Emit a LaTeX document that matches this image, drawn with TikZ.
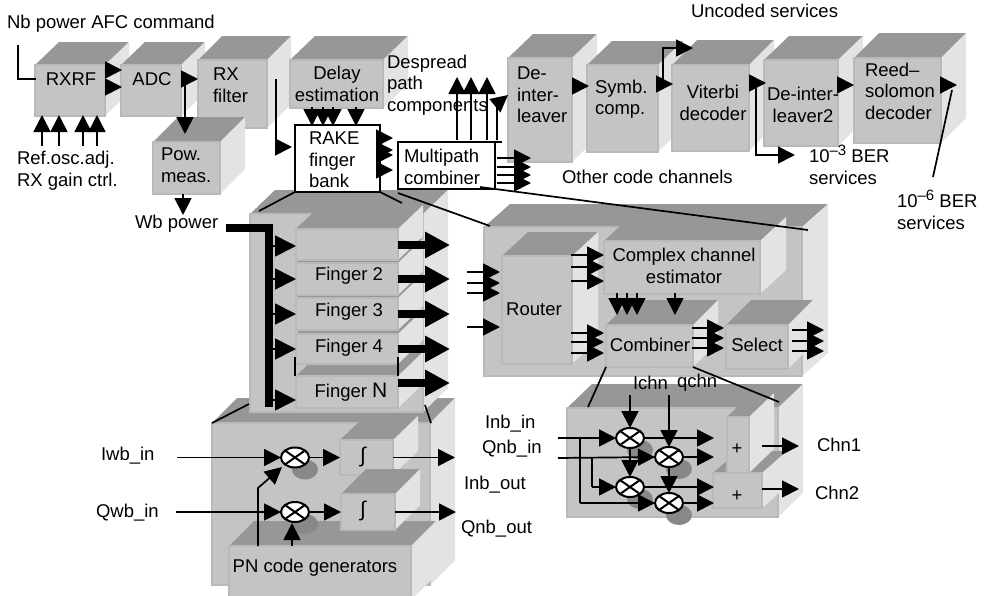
\documentclass[tikz,border=0pt]{standalone}
\usepackage{fontspec}
\setmainfont{Liberation Sans}
\usetikzlibrary{arrows.meta,shapes.geometric}
\definecolor{cfront}{HTML}{C4C4C4}
\definecolor{cedge}{HTML}{B9B9B9}
\definecolor{ctop}{HTML}{979797}
\definecolor{cside}{HTML}{E3E3E3}
\newcounter{wirec}
\newcommand{\cubeblock}[7]{%
  \fill[ctop] (#2,#3) -- (#2+#6,#3-#7) -- (#4+#6,#3-#7) -- (#4,#3) -- cycle;
  \fill[cside] (#4,#3) -- (#4+#6,#3-#7) -- (#4+#6,#5-#7) -- (#4,#5) -- cycle;
  \node[front,minimum width={(#4-#2)*1pt},minimum height={(#5-#3)*1pt}] (#1) at ({(#2+#4)/2},{(#3+#5)/2}) {};
}
\newcommand{\lnk}[3]{%
  \stepcounter{wirec}%
  \coordinate (w\arabic{wirec}s) at (#2);
  \coordinate (w\arabic{wirec}e) at (#3);
  \draw[#1] (w\arabic{wirec}s) -- (w\arabic{wirec}e);
}
\newcommand{\lnkk}[4]{%
  \stepcounter{wirec}%
  \coordinate (w\arabic{wirec}s) at (#2);
  \coordinate (w\arabic{wirec}m) at (#3);
  \coordinate (w\arabic{wirec}e) at (#4);
  \draw[#1] (w\arabic{wirec}s) -- (w\arabic{wirec}m) -- (w\arabic{wirec}e);
}
\newcommand{\mult}[3]{%
  \fill[ctop!90!black] (#2+10,#3+12) ellipse [x radius=13pt,y radius=10pt];
  \node[multnode] (#1) at (#2,#3) {};
  \draw[line width=2pt] (#1.35) -- (#1.215) (#1.145) -- (#1.325);
}
\tikzset{
  front/.style={fill=cfront,draw=cedge,line width=1.5pt,inner sep=0pt,outer sep=0pt},
  whitebox/.style={fill=white,draw=black,line width=1.6pt,inner sep=0pt,outer sep=0pt},
  multnode/.style={ellipse,fill=white,draw=black,line width=2pt,minimum width=28pt,minimum height=20pt,inner sep=0pt,outer sep=0pt},
  wire/.style={line width=1.7pt},
  arr/.style={wire,-{Triangle[length=17pt,width=17pt]}},
  lbl/.style={inner sep=0pt,outer sep=0pt,align=left,font=\fontsize{18.5}{21.5}\selectfont},
  lblc/.style={lbl,align=center},
  fatin/.style={wire,-{Triangle[length=21pt,width=21pt]}},
  fatout/.style={line width=8pt,-{Triangle[length=25pt,width=25pt,sep=0pt]}},
}
\begin{document}
\begin{tikzpicture}[x=1pt,y=-1pt]
\useasboundingbox (0,0) rectangle (988,595);
% top row
\cubeblock{rxrf}{35}{65}{105}{116}{24}{23}
\cubeblock{adc}{121}{65}{181}{116}{24}{23}
\cubeblock{rxf}{198}{60}{267}{128}{24}{24}
\cubeblock{delay}{290}{60}{383}{108}{25}{24}
\cubeblock{powm}{153}{142}{220}{194}{25}{25}
\cubeblock{deint}{508}{58}{572}{162}{25}{24}
\cubeblock{symb}{587}{65}{658}{152}{25}{24}
\cubeblock{vit}{672}{65}{749}{151}{25}{25}
\cubeblock{deint2}{764}{60}{838}{146}{25}{24}
\cubeblock{reed}{854}{58}{941}{143}{25}{25}
% despreader group
\cubeblock{despgrp}{212}{423}{430}{585}{25}{25}
\cubeblock{int1}{340}{440}{393}{475}{25}{24}
\mult{m1}{295}{457.5}
\cubeblock{pn}{229}{546}{411}{600}{25}{25}
\cubeblock{int2}{341}{494}{395}{530}{25}{25}
\mult{m2}{295}{512}
% finger group
\cubeblock{fgrp}{250}{214}{423}{412}{25}{24}
\cubeblock{fN}{296}{376}{398}{408}{25}{24}
\cubeblock{f4}{296}{334}{398}{364}{25}{24}
\cubeblock{f3}{296}{298}{398}{330}{25}{24}
\cubeblock{f2}{296}{263}{398}{295}{25}{24}
\fill[ctop] (296,229) -- (321,205) -- (423,205) -- (398,229) -- cycle;
\cubeblock{f1}{296}{229}{398}{260}{25}{24}
\draw[wire] (295,357) -- (295,376) (398,357) -- (398,376);
% router group
\cubeblock{rgrp}{484}{227}{802}{376}{26}{23}
\cubeblock{router}{502}{256}{572}{364}{26}{24}
\cubeblock{est}{604}{241}{760}{294}{26}{24}
\cubeblock{comb}{606}{325}{693}{367}{25}{25}
\cubeblock{sel}{726}{325}{788}{369}{25}{25}
% despreading output group
\cubeblock{ogrp}{567}{408}{778}{517}{25}{24}
\cubeblock{plusb}{713}{473}{762}{508}{25}{22}
\cubeblock{plusa}{727}{417}{749}{473}{25}{24}
\mult{m3}{630}{438}
\mult{m4}{669}{457}
\mult{m5}{630}{487}
\mult{m6}{669}{503}
% white boxes
\node[whitebox,minimum width=85pt,minimum height=67pt] (rake) at (337.5,158.5) {};
\node[whitebox,minimum width=97pt,minimum height=47pt] (mpc) at (446.5,165.5) {};
\coordinate (mpcstub) at (502,142);
\draw[wire] (mpc.north east) -- (mpcstub);
% perspective lines
\lnk{wire}{rake.south west}{259,211}
\lnk{wire}{rake.south east}{402,203}
\lnk{wire}{398,193}{490,226}
\lnk{wire}{480,187}{808,230}
\lnk{wire}{249,404}{212,423}
\lnk{wire}{425,405}{431,423}
\lnk{wire}{comb.south west}{588,407}
\lnk{wire}{comb.south east}{779,402}
% top row wires
\coordinate (nbt) at (18,45);
\coordinate (nbc) at (18,79);
\coordinate (nbe) at (36,79);
\draw[wire] (nbt) -- (nbc) -- (nbe);
\foreach \y in {70,87} {\lnk{arr}{106,\y}{122,\y}}
\lnk{arr}{182,79}{198,79}
\lnk{arr}{185,79}{185,134}
\lnkk{arr}{276,79}{276,147}{292,147}
\foreach \x in {312,323,333,356} {\lnk{arr}{\x,107}{\x,126}}
\foreach \x in {42,59,83,97} {\lnk{arr}{\x,146}{\x,115}}
\foreach \y in {138,150,155,170} {\lnk{arr}{377,\y}{393,\y}}
\foreach \x in {457,471,487} {\lnk{arr}{\x,140}{\x,77}}
\lnkk{arr}{497,140}{497,104}{508,95}
\foreach \y in {158,167,175,183} {\lnk{arr}{497,\y}{531,\y}}
\lnk{arr}{572,86}{589,86}
\lnk{arr}{658,84}{673,84}
\lnkk{arr}{663,82}{663,48}{693,48}
\lnk{arr}{750,83}{766,83}
\lnkk{arr}{756,83}{756,155}{795,155}
\lnk{arr}{838,85}{854,85}
\lnk{arr}{942,85}{957,85}
\lnk{wire}{933,177}{952,90}
\lnk{arr}{183,194}{183,215}
% fingers
\coordinate (wbs) at (226,228);
\coordinate (wbc) at (268.5,228);
\coordinate (wbe) at (268.5,407);
\draw[line width=8pt] (wbs) -- (wbc) -- (wbe);
\foreach \y in {246,279,314,349,400} {\lnk{fatin}{272,\y}{296,\y}}
\foreach \y in {245,279,314,349,383} {\lnk{fatout}{398,\y}{450,\y}}
\foreach \y in {272,283,293,327} {\lnk{arr}{467,\y}{500,\y}}
\foreach \y in {255,267,281} {\lnk{arr}{571,\y}{604,\y}}
\foreach \y in {333,342,353} {\lnk{arr}{571,\y}{604,\y}}
\foreach \x in {617,627,637,675} {\lnk{arr}{\x,293}{\x,315}}
\foreach \y in {328,338,348} {\lnk{arr}{692,\y}{724,\y}}
\foreach \y in {330,341,351} {\lnk{arr}{792,\y}{824,\y}}
% despreader
\coordinate (iwb) at (177,457.5);
\coordinate (qwb) at (176,512);
\coordinate (inbo) at (455,457.5);
\coordinate (qnbo) at (456,512);
\draw[arr] (iwb) -- (m1.west);
\draw[arr] (qwb) -- (m2.west);
\draw[arr] (m1.east) -- (int1.west);
\draw[arr] (m2.east) -- (int2.west);
\draw[arr] (int1.east) -- (inbo);
\draw[arr] (int2.east) -- (qnbo);
\lnkk{arr}{258,546}{258,488}{282,467}
\lnk{arr}{292,546}{292,523}
% output group
\coordinate (inb) at (558,438);
\coordinate (qnb) at (558,458);
\coordinate (ibr) at (580,438);
\coordinate (ibc) at (580,503);
\coordinate (qbr) at (592,458);
\coordinate (qbc) at (592,487);
\coordinate (ichn) at (630,395);
\coordinate (qchn) at (669,395);
\draw[arr] (inb) -- (m3.west);
\draw[arr] (qnb) -- (m4.west);
\draw[wire] (ibr) -- (ibc);
\draw[arr] (ibc) -- (m6.west);
\draw[wire] (qbr) -- (qbc);
\draw[arr] (qbc) -- (m5.west);
\draw[arr] (ichn) -- (m3.north);
\draw[arr] (qchn) -- (m4.north);
\draw[arr] (m3.south) -- (m5.north);
\draw[arr] (m4.south) -- (m6.north);
\lnk{arr}{644,438}{714,438}
\lnk{arr}{683,457}{714,457}
\lnk{arr}{644,487}{714,487}
\lnk{arr}{683,503}{714,503}
\lnk{arr}{762,446}{799,446}
\lnk{arr}{762,489}{799,489}
% labels
\node[lbl,anchor=west] (t1) at (7,24) {Nb power AFC command};
\node[lblc] (t2) at (71,79) {RXRF};
\node[lblc] (t3) at (152,79) {ADC};
\node[lbl,anchor=west] (t4) at (213,85) {RX\\filter};
\node[lblc] (t5) at (337,84) {Delay\\estimation};
\node[lbl,anchor=west] (t6) at (161,165) {Pow.\\meas.};
\node[lbl,anchor=west] (t7) at (17,170.5) {Ref.osc.adj.\\RX gain ctrl.};
\node[lbl,anchor=west] (t8) at (309,160) {RAKE\\finger\\bank};
\node[lbl,anchor=west] (t9) at (404,167) {Multipath\\combiner};
\node[lbl,anchor=west] (t10) at (387,85) {Despread\\path\\components};
\node[lbl,anchor=west] (t11) at (517,95) {De-\\inter-\\leaver};
\node[lbl,anchor=west] (t12) at (595,99) {Symb.\\comp.};
\node[lblc] (t13) at (713,103) {Viterbi\\decoder};
\node[lblc] (t14) at (803,105) {De-inter-\\leaver2};
\node[lbl,anchor=west] (t15) at (865,91) {Reed–\\solomon\\decoder};
\node[lbl,anchor=west] (t16) at (691,11) {Uncoded services};
\node[lbl,anchor=west] (t17) at (562,177) {Other code channels};
\node[lbl,anchor=west] (t18) at (809,165) {10\raisebox{7pt}{\fontsize{15}{15}\selectfont –3} BER\\services};
\node[lbl,anchor=west] (t19) at (897,210) {10\raisebox{7pt}{\fontsize{15}{15}\selectfont –6} BER\\services};
\node[lbl,anchor=west] (t20) at (135,224) {Wb power};
\node[lblc] (t21) at (349,276) {Finger 2};
\node[lblc] (t22) at (349,312) {Finger 3};
\node[lblc] (t23) at (349,348) {Finger 4};
\node[lblc] (t24) at (351,392) {Finger {\fontsize{21}{21}\selectfont N}};
\node[lblc] (t25) at (534,309) {Router};
\node[lblc] (t26) at (684,266) {Complex channel\\estimator};
\node[lblc] (t27) at (650,345) {Combiner};
\node[lblc] (t28) at (757,345) {Select};
\node[lbl,anchor=west] (t29) at (101,456) {Iwb\_in};
\node[lbl,anchor=west] (t30) at (96,513) {Qwb\_in};
\node[lbl,anchor=west] (t31) at (485,424) {Inb\_in};
\node[lbl,anchor=west] (t32) at (482,449) {Qnb\_in};
\node[lbl,anchor=west] (t33) at (464,485) {Inb\_out};
\node[lbl,anchor=west] (t34) at (461,529) {Qnb\_out};
\node[lbl,anchor=west] (t35) at (633,383) {Ichn};
\node[lbl,anchor=west] (t36) at (677,383) {qchn};
\node[lbl,anchor=west] (t37) at (817,445) {Chn1};
\node[lbl,anchor=west] (t38) at (815,493) {Chn2};
\node[lblc,font=\fontsize{21}{21}\selectfont] (t39) at (363,457) {∫};
\node[lblc,font=\fontsize{21}{21}\selectfont] (t40) at (363,511) {∫};
\node[lblc] (t41) at (315,568) {PN code generators};
\node[lblc] (t42) at (737,449) {+};
\node[lblc] (t43) at (737,496) {+};
\end{tikzpicture}
\end{document}
